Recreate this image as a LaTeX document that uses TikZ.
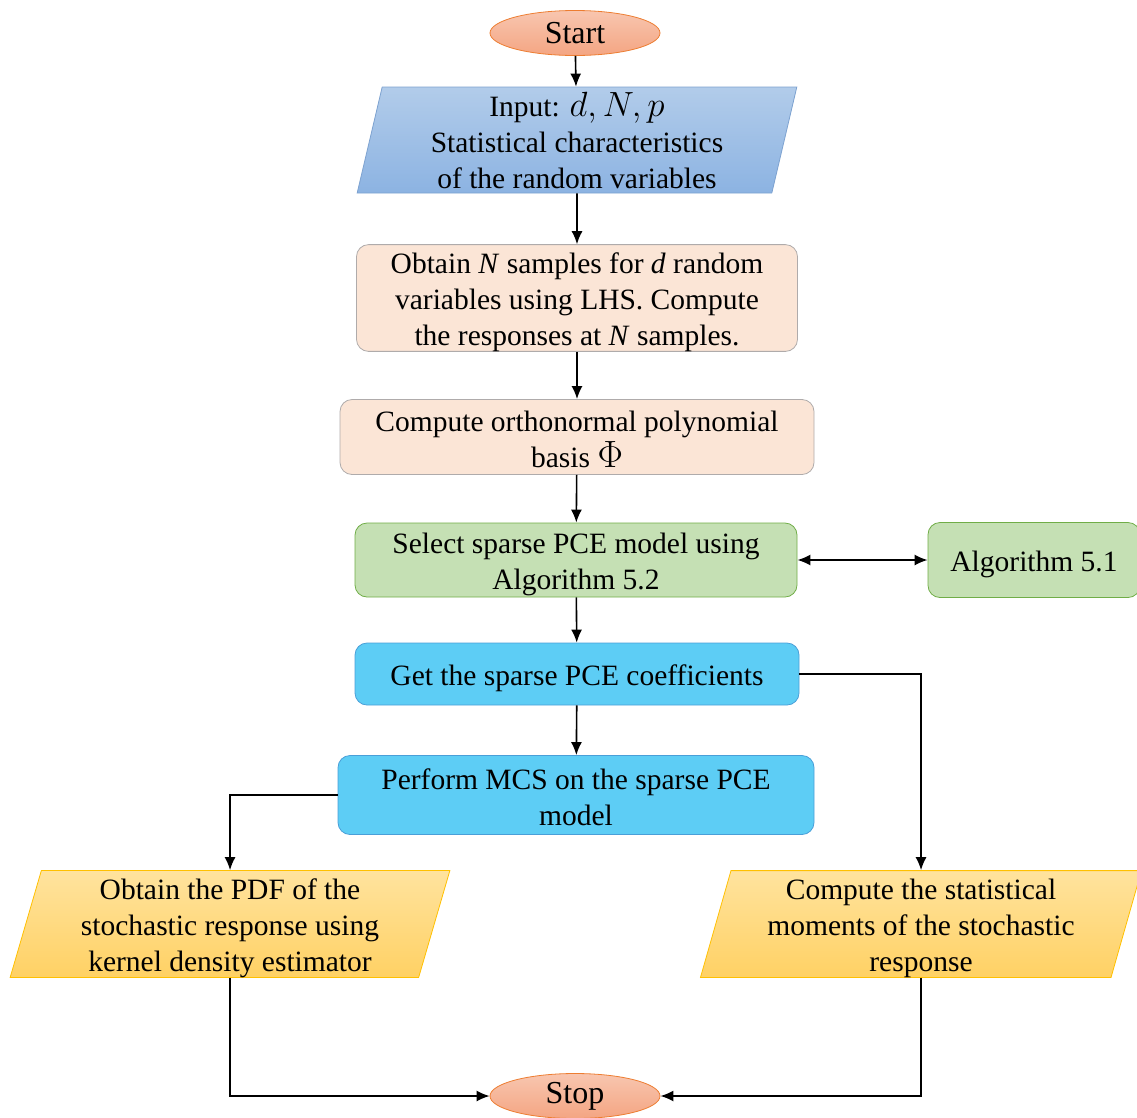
\RequirePackage{fix-cm}
\documentclass[tikz,border=0pt]{standalone}
\usepackage{fontspec}
\setmainfont{Liberation Serif}
\usetikzlibrary{shapes.geometric,arrows.meta}
\definecolor{salmonT}{HTML}{F8C6B0}
\definecolor{salmonB}{HTML}{F4A582}
\definecolor{salmonD}{HTML}{ED7D31}
\definecolor{blueT}{HTML}{B2CCEA}
\definecolor{blueB}{HTML}{8CB3E2}
\definecolor{blueD}{HTML}{7DA2D0}
\definecolor{peach}{HTML}{FBE5D6}
\definecolor{peachD}{HTML}{AFABAB}
\definecolor{greenF}{HTML}{C5E0B4}
\definecolor{greenD}{HTML}{70AD47}
\definecolor{cyanF}{HTML}{5DCDF5}
\definecolor{cyanD}{HTML}{4A9FD8}
\definecolor{goldT}{HTML}{FFE39E}
\definecolor{goldB}{HTML}{FFD164}
\definecolor{goldD}{HTML}{FFC000}
\newcommand{\tstrut}{\rule{0pt}{28.5pt}}
\newcommand{\sstrut}{\rule{0pt}{24.5pt}}
\begin{document}
\begin{tikzpicture}[x=1pt,y=-1pt,
  every node/.style={font=\fontsize{29.5}{36}\selectfont, align=center, inner sep=0pt},
  term/.style={ellipse, draw=salmonD, line width=0.8pt, top color=salmonT, bottom color=salmonB,
    minimum width=170pt, minimum height=45pt, font=\fontsize{32}{36}\selectfont},
  procbox/.style={rectangle, rounded corners=12pt, line width=0.8pt},
  peachbox/.style={procbox, draw=peachD, fill=peach},
  greenbox/.style={procbox, draw=greenD, fill=greenF},
  cyanbox/.style={procbox, draw=cyanD, fill=cyanF},
  iobox/.style={trapezium, trapezium stretches=true, line width=0.8pt},
  arr/.style={-{Latex[length=13pt,width=11pt]}, line width=1.6pt},
  darr/.style={{Latex[length=13pt,width=11pt]}-{Latex[length=13pt,width=11pt]}, line width=1.6pt}
]
\useasboundingbox (0,0) rectangle (1137,1117);

\node[term] (start) at (575,33) {Start};

\node[iobox, trapezium left angle=79, trapezium right angle=101,
  draw=blueD, top color=blueT, bottom color=blueB,
  minimum width=441pt, minimum height=106pt] (input) at (577,140)
  {Input: {\fontsize{35}{36}\selectfont$d, N, p$}\\Statistical characteristics\\of the random variables};

\node[peachbox, minimum width=441pt, minimum height=106pt] (b1) at (577,298)
  {\tstrut Obtain \textit{N} samples for \textit{d} random\\variables using LHS. Compute\\the responses at \textit{N} samples.};

\node[peachbox, minimum width=474pt, minimum height=75pt] (b2) at (577,437)
  {\sstrut Compute orthonormal polynomial\\basis {\fontsize{38}{36}\selectfont$\Phi$}};

\node[greenbox, minimum width=442pt, minimum height=74pt] (b3) at (576,560)
  {\tstrut Select sparse PCE model using\\Algorithm 5.2};

\node[greenbox, minimum width=212pt, minimum height=75pt] (alg) at (1034,560)
  {\tstrut Algorithm 5.1};

\node[cyanbox, minimum width=444pt, minimum height=62pt] (b4) at (577,674)
  {\tstrut Get the sparse PCE coefficients};

\node[cyanbox, minimum width=476pt, minimum height=79pt] (b5) at (576,795)
  {\sstrut Perform MCS on the sparse PCE\\model};

\node[iobox, trapezium left angle=77, trapezium right angle=103,
  draw=goldD, top color=goldT, bottom color=goldB,
  minimum width=441pt, minimum height=106pt] (left) at (230,924)
  {\tstrut Obtain the PDF of the\\stochastic response using\\kernel density estimator};

\node[iobox, trapezium left angle=77, trapezium right angle=103,
  draw=goldD, top color=goldT, bottom color=goldB,
  minimum width=443pt, minimum height=106pt] (right) at (921,924)
  {\tstrut Compute the statistical\\moments of the stochastic\\response};

\node[term] (stop) at (575,1096) {Stop};

\draw[arr] (start) -- (input);
\draw[arr] (input) -- (b1);
\draw[arr] (b1) -- (b2);
\draw[arr] (b2) -- (b3);
\draw[darr] (b3) -- (alg);
\draw[arr] (b3) -- (b4);
\draw[arr] (b4) -- (b5);
\draw[arr] (b4.east) -| (right.north);
\draw[arr] (b5.west) -| (left.north);
\draw[arr] (left.south) |- (stop.west);
\draw[arr] (right.south) |- (stop.east);
\end{tikzpicture}
\end{document}
